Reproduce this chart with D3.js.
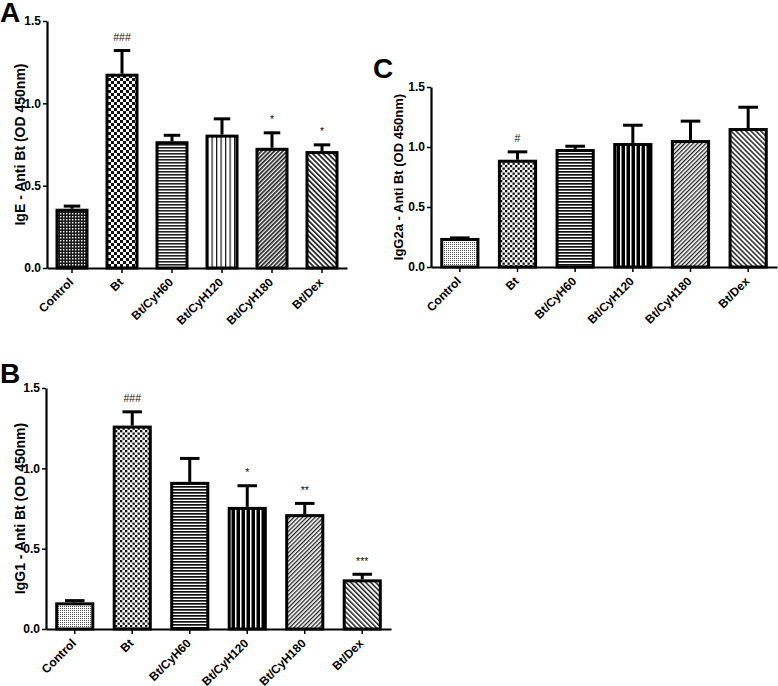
<!DOCTYPE html>
<html><head><meta charset="utf-8">
<script src="https://cdn.jsdelivr.net/npm/d3@7"></script>
<style>
body{margin:0;background:#fff;}
text{font-family:"Liberation Sans",Arial,Helvetica,sans-serif;}
</style></head><body>
<svg id="chart" width="778" height="686"></svg>
<script>
// ---- data ----
const categories = ["Control","Bt","Bt/CyH60","Bt/CyH120","Bt/CyH180","Bt/Dex"];
const yTicks = [0, 0.5, 1.0, 1.5];

const igeMean  = [0.36, 1.18, 0.77, 0.81, 0.73, 0.71];
const igeSem   = [0.025, 0.15, 0.045, 0.105, 0.10, 0.047];
const igeSig   = ["", "###", "", "", "*", "*"];

const igg1Mean = [0.166, 1.266, 0.916, 0.760, 0.715, 0.309];
const igg1Sem  = [0.02, 0.095, 0.155, 0.141, 0.076, 0.041];
const igg1Sig  = ["", "###", "", "*", "**", "***"];

const igg2aMean = [0.242, 0.894, 0.983, 1.033, 1.058, 1.158];
const igg2aSem  = [0.013, 0.078, 0.036, 0.161, 0.17, 0.186];
const igg2aSig  = ["", "#", "", "", "", ""];

const patternKeys = ["ctrl","bt","h60","v120","d180","dex"];

// ---- patterns ----
const svg = d3.select("#chart");
const defs = svg.append("defs");

function pat(id, w, h, rot, build){
  const p = defs.append("pattern").attr("id", id).attr("patternUnits","userSpaceOnUse")
    .attr("width", w).attr("height", h);
  if (rot) p.attr("patternTransform", `rotate(${rot})`);
  p.append("rect").attr("width", w).attr("height", h).attr("fill", "#fff");
  build(p);
}
function r(p, x, y, w, h, fill){ p.append("rect").attr("x",x).attr("y",y).attr("width",w).attr("height",h).attr("fill",fill); }

// set A (IgE)
pat("A-ctrl", 3, 3, 0, p => { r(p,0,0,3,3,"#1a1a1a"); r(p,0,0,1.4,1.4,"#fff"); });
pat("A-bt", 6, 6, 0, p => { r(p,0,0,3,3,"#111"); r(p,3,3,3,3,"#111"); });
pat("A-h60", 3, 3, 0, p => { r(p,0,0,3,1.6,"#222"); });
pat("A-v120", 4.5, 4.5, 0, p => { r(p,0,0,1.2,4.5,"#111"); });
pat("A-d180", 3, 3, 45, p => { r(p,0,0,1.7,3,"#222"); });
pat("A-dex", 3.6, 3.6, -45, p => { r(p,0,0,1.7,3.6,"#222"); });
// set BC (IgG1, IgG2a)
pat("B-ctrl", 2, 2, 0, p => { r(p,0,0,1,1,"#555"); });
pat("B-bt", 5, 5, 0, p => { r(p,0,0,2.3,2.3,"#111"); r(p,2.5,2.5,2.3,2.3,"#111"); });
pat("B-h60", 3, 3, 0, p => { r(p,0,0,3,1.7,"#111"); });
pat("B-v120", 5, 5, 0, p => { r(p,0,0,5,5,"#000"); r(p,0,0,1.5,5,"#fff"); });
pat("B-d180", 3, 3, 45, p => { r(p,0,0,1.3,3,"#222"); });
pat("B-dex", 3.5, 3.5, -45, p => { r(p,0,0,1.5,3.5,"#222"); });

// ---- panels ----
const panels = [
  {letter:"A", lx:0, ly:22, x0:47, x1:347, yb:268, yt:21, pad:0.34, pset:"A",
   means:igeMean, sems:igeSem, sig:igeSig, title:"IgE - Anti Bt (OD 450nm)", tx:25, tfs:14},
  {letter:"C", lx:373, ly:78, x0:431, x1:777, yb:267, yt:87, pad:0.32, pset:"B",
   means:igg2aMean, sems:igg2aSem, sig:igg2aSig, title:"IgG2a - Anti Bt (OD 450nm)", tx:403, tfs:13},
  {letter:"B", lx:0, ly:383, x0:46, x1:391, yb:629, yt:388, pad:0.32, pset:"B",
   means:igg1Mean, sems:igg1Sem, sig:igg1Sig, title:"IgG1 - Anti Bt (OD 450nm)", tx:25, tfs:14}
];

const SW = 3;
panels.forEach(cfg => {
  const g = svg.append("g");
  const x = d3.scaleBand().domain(categories).range([cfg.x0, cfg.x1])
    .paddingInner(cfg.pad).paddingOuter(cfg.pad/2);
  const y = d3.scaleLinear().domain([0, 1.5]).range([cfg.yb, cfg.yt]);
  const rows = categories.map((c,i) => ({c, m:cfg.means[i], e:cfg.sems[i], s:cfg.sig[i], p:patternKeys[i]}));
  const cx = d => x(d.c) + x.bandwidth()/2;

  // error bars
  g.selectAll("line.err").data(rows).join("line")
    .attr("x1", cx).attr("x2", cx)
    .attr("y1", d => y(d.m)).attr("y2", d => y(d.m + d.e) + SW/2)
    .attr("stroke", "#000").attr("stroke-width", SW);
  g.selectAll("line.cap").data(rows).join("line")
    .attr("x1", d => cx(d) - x.bandwidth()/4).attr("x2", d => cx(d) + x.bandwidth()/4)
    .attr("y1", d => y(d.m + d.e) + SW/2).attr("y2", d => y(d.m + d.e) + SW/2)
    .attr("stroke", "#000").attr("stroke-width", SW);

  // bars
  g.selectAll("rect.bar").data(rows).join("rect")
    .attr("x", d => x(d.c) + SW/2).attr("y", d => y(d.m) + SW/2)
    .attr("width", x.bandwidth() - SW)
    .attr("height", d => y(0) - y(d.m) - SW/2)
    .attr("fill", d => `url(#${cfg.pset}-${d.p})`)
    .attr("stroke", "#000").attr("stroke-width", SW);

  // significance
  g.selectAll("text.sig").data(rows.filter(d => d.s)).join("text")
    .attr("x", cx).attr("y", d => y(d.m + d.e) - 8)
    .attr("text-anchor", "middle").attr("font-size", 10.5).attr("fill", "#111")
    .text(d => d.s);

  // axes
  const ya = g.append("g").attr("transform", `translate(${cfg.x0},0)`)
    .call(d3.axisLeft(y).tickValues(yTicks).tickFormat(d3.format(".1f")).tickSize(4).tickSizeOuter(0).tickPadding(2));
  const xa = g.append("g").attr("transform", `translate(0,${cfg.yb})`)
    .call(d3.axisBottom(x).tickSize(5).tickSizeOuter(0).tickFormat(""));
  [ya, xa].forEach(a => {
    a.select(".domain").attr("stroke-width", 2.2).attr("stroke", "#000");
    a.selectAll(".tick line").attr("stroke-width", 1.5).attr("stroke", "#000");
    a.selectAll(".tick text").attr("font-size", 12).attr("font-weight", "bold").attr("fill", "#000")
      .attr("font-family", '"Liberation Sans",Arial,sans-serif');
  });

  // x labels
  g.selectAll("text.xl").data(categories).join("text")
    .attr("transform", d => `translate(${x(d) + x.bandwidth()/2 + 2},${cfg.yb + 15}) rotate(-45)`)
    .attr("text-anchor", "end").attr("font-size", 12).attr("font-weight", "bold")
    .text(d => d);

  // y title
  g.append("text")
    .attr("transform", `translate(${cfg.tx},${(cfg.yb + cfg.yt)/2}) rotate(-90)`)
    .attr("text-anchor", "middle").attr("font-size", cfg.tfs).attr("font-weight", "bold")
    .text(cfg.title);

  // panel letter
  g.append("text").attr("x", cfg.lx).attr("y", cfg.ly)
    .attr("font-size", 28).attr("font-weight", "bold").text(cfg.letter);
});
</script>
</body></html>
